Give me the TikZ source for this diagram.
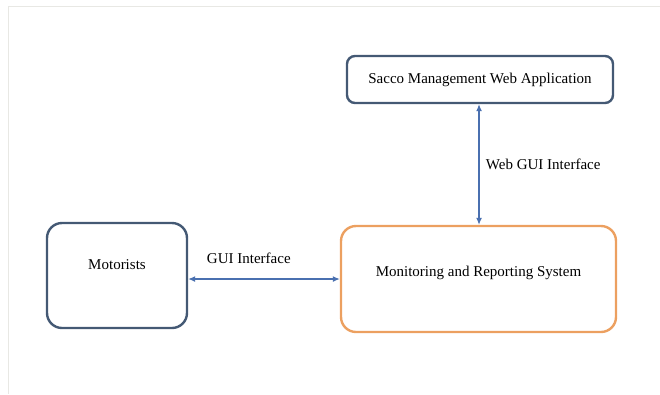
\documentclass[tikz,border=0pt]{standalone}
\usepackage{fontspec}
\setmainfont{Liberation Serif}
\usetikzlibrary{arrows.meta}
\definecolor{boxblue}{RGB}{68,89,116}
\definecolor{boxorange}{RGB}{236,160,96}
\definecolor{linkblue}{RGB}{74,112,176}
\definecolor{framegray}{RGB}{232,232,228}
\tikzstyle{every node}=[font=\fontsize{15}{18}\selectfont]
\tikzstyle{system}=[draw=boxblue, line width=2.4pt, rounded corners=8pt, inner sep=0pt]
\tikzstyle{actor}=[draw=boxblue, line width=2.4pt, rounded corners=15pt, inner sep=0pt]
\tikzstyle{core}=[draw=boxorange, line width=2.4pt, rounded corners=15pt, inner sep=0pt]
\tikzstyle{link}=[draw=linkblue, line width=1.2pt, {Latex[length=7pt,width=6pt]}-{Latex[length=7pt,width=6pt]}]

\begin{document}
\begin{tikzpicture}[x=1pt, y=-1pt]
            \useasboundingbox (0, 0) rectangle (660, 394);
            \draw [framegray, line width=1pt] (8, 394) -- (8, 6) -- (660, 6);

            \node[system, minimum width=266pt, minimum height=47pt] (sacco) at (480, 79.5)
                {Sacco Management Web Application};
            \node[actor, minimum width=140pt, minimum height=105pt,
                label={[yshift=11pt]center:Motorists}] (motorists) at (117, 275.5) {};
            \node[core, minimum width=275pt, minimum height=106pt,
                label={[yshift=6pt]center:Monitoring and Reporting System}] (monitor) at (478.5, 279) {};

            \draw [link] (sacco.south -| 479, 0) -- (monitor.north -| 479, 0)
                node[pos=0.5, right=3pt]{Web GUI Interface};
            \draw [link] (motorists.east |- 0, 279) -- (monitor.west |- 0, 279)
                node[pos=0.4, above=11pt]{GUI Interface};
        \end{tikzpicture}
\end{document}
